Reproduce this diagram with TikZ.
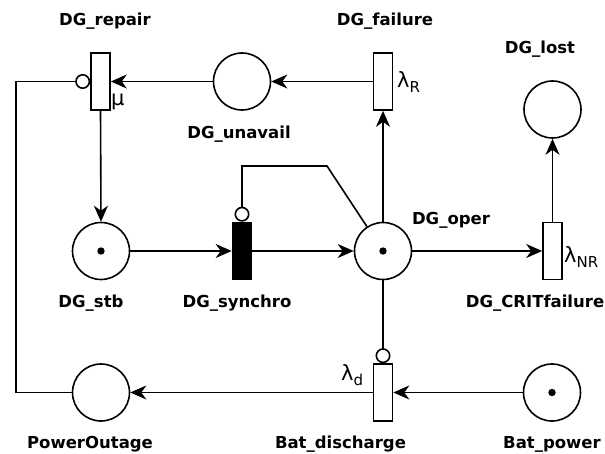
\documentclass[tikz,border=0pt]{standalone}
\usepackage{fontspec}
\setmainfont{DejaVu Sans}
\usetikzlibrary{arrows.meta}
\begin{document}
\begin{tikzpicture}[x=1pt,y=-1pt,
  lw/.style={line width=1.6pt},
  place/.style={circle, draw, lw, minimum size=57pt, inner sep=0pt},
  trans/.style={rectangle, draw, lw, fill=white, minimum width=19pt, minimum height=57pt, inner sep=0pt},
  imm/.style={trans, fill=black},
  token/.style={path picture={\fill (path picture bounding box.center) circle (3.7pt);}},
  arc/.style={lw, -{Stealth[length=16pt,width=14pt,inset=5pt]}},
  inhib/.style={lw, -{Circle[open,length=15pt,width=15pt]}},
  lbl/.style={anchor=base, inner sep=0pt, font=\bfseries\fontsize{16.5}{18}\selectfont},
  rate/.style={anchor=base west, inner sep=0pt, font=\fontsize{21}{23}\selectfont}
]
\useasboundingbox (0,0) rectangle (605,454);
\fill[white] (0,0) rectangle (605,454);

% places
\node[place] (unavail) at (242,81.5) {};
\node[place] (lost) at (552.5,109.5) {};
\node[place, token] (stb) at (101,251) {};
\node[place, token] (oper) at (383,251) {};
\node[place] (outage) at (101,392.5) {};
\node[place, token] (batp) at (552,392.5) {};

% transitions
\node[trans] (repair) at (100.5,81.5) {};
\node[trans] (failure) at (383,81.5) {};
\node[imm] (synchro) at (242,251) {};
\node[trans] (crit) at (552.5,251) {};
\node[trans] (discharge) at (383,392.5) {};

% coordinates
\coordinate (s1) at (327,166);
\coordinate (s2) at (242,166);
\coordinate (o1) at (16,392.5);
\coordinate (o2) at (16,81.5);

% arcs
\draw[arc] (failure.west) -- (unavail.east);
\draw[arc] (unavail.west) -- (repair.east);
\draw[arc] (repair.south) -- (stb.north);
\draw[arc] (stb.east) -- (synchro.west);
\draw[arc] (synchro.east) -- (oper.west);
\draw[arc] (oper.north) -- (failure.south);
\draw[arc] (oper.east) -- (crit.west);
\draw[arc] (crit.north) -- (lost.south);
\draw[arc] (batp.west) -- (discharge.east);
\draw[arc] (discharge.west) -- (outage.east);
\draw[inhib] (oper.south) -- (discharge.north);
\draw[inhib] (oper) -- (s1) -- (s2) -- (synchro.north);
\draw[inhib] (outage.west) -- (o1) -- (o2) -- (repair.west);

% labels
\node[lbl] (lrepair) at (105,26) {DG\_repair};
\node[lbl] (lfailure) at (385,26) {DG\_failure};
\node[lbl] (llost) at (540,54) {DG\_lost};
\node[lbl] (lunavail) at (239,139) {DG\_unavail};
\node[lbl] (loper) at (451,225) {DG\_oper};
\node[lbl] (lstb) at (91,308) {DG\_stb};
\node[lbl] (lsynchro) at (237,308) {DG\_synchro};
\node[lbl] (lcrit) at (535,308) {DG\_CRITfailure};
\node[lbl] (loutage) at (90,448) {PowerOutage};
\node[lbl] (ldischarge) at (340.5,448) {Bat\_discharge};
\node[lbl] (lbatp) at (552,448) {Bat\_power};

% rates
\node[rate] (mu) at (111,106) {μ};
\node[rate] (lR) at (397,88) {λ\raisebox{-5pt}{\fontsize{15}{16}\selectfont R}};
\node[rate] (lNR) at (564,263) {λ\raisebox{-5pt}{\fontsize{15}{16}\selectfont NR}};
\node[rate] (ld) at (341,380) {λ\raisebox{-5pt}{\fontsize{15}{16}\selectfont d}};
\end{tikzpicture}
\end{document}
